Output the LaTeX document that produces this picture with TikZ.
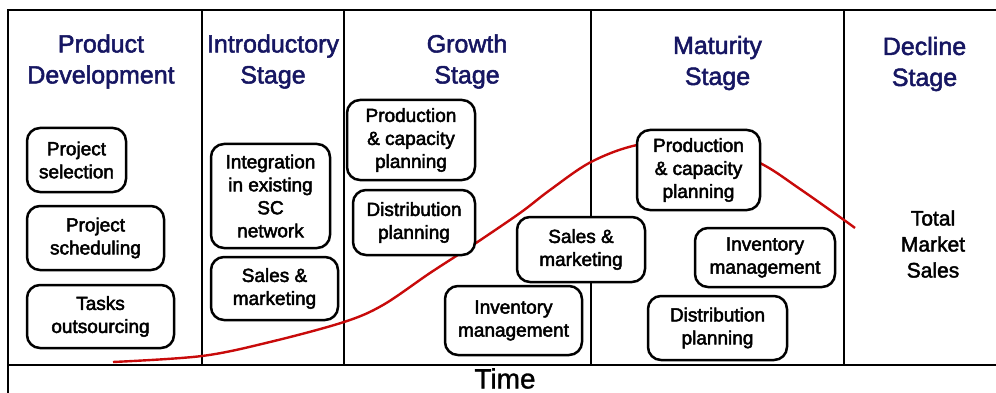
\documentclass[tikz,border=0pt]{standalone}
\usepackage{fontspec}
\setmainfont{Liberation Sans}
\definecolor{navy}{RGB}{22,22,98}
\definecolor{curvered}{RGB}{200,10,10}
\begin{document}
\begin{tikzpicture}[x=1pt,y=-1pt,
  frame/.style={line width=1.8pt,black},
  head/.style={text=navy,align=center,font=\fontsize{25}{31}\selectfont\addfontfeatures{FakeBold=2},inner sep=0pt},
  task/.style={draw,line width=2.5pt,rounded corners=13pt,fill=white,align=center,
    font=\fontsize{19}{23}\selectfont\addfontfeatures{FakeBold=2.5},inner sep=0pt},
  curve/.style={curvered,line width=2.4pt}]
\useasboundingbox (0,0) rectangle (996,393);
% frame
\draw[frame] (8,393) -- (8,10) -- (996,10);
\draw[frame] (8,365) -- (996,365);
\foreach \xx in {202,344,591,844} \draw[frame] (\xx,10) -- (\xx,365);
% headers
\node[head] (h1) at (101,61.5) {Product\\Development};
\node[head] (h2) at (273,61.5) {Introductory\\Stage};
\node[head] (h3) at (467,61.5) {Growth\\Stage};
\node[head] (h4) at (717.5,63) {Maturity\\Stage};
\node[head] (h5) at (924.5,64) {Decline\\Stage};
% curve
\draw[curve] plot[smooth,tension=0.55] coordinates {(113,362) (202,356) (270,342) (344,322) (383,305) (430,273) (470,247) (520,213) (550,190) (591,162) (637,145) (700,138) (760,163) (800,189) (844,220) (855,228)};
% tasks
\node[task,minimum width=99pt,minimum height=64pt] (ps) at (76.5,160) {Project\\selection};
\node[task,minimum width=137pt,minimum height=64pt] (psch) at (95.5,238) {Project\\scheduling};
\node[task,minimum width=147pt,minimum height=63pt] (tasks) at (100.5,316.5) {Tasks\\outsourcing};
\node[task,minimum width=119pt,minimum height=104pt] (integ) at (270.5,196) {Integration\\in existing\\SC\\network};
\node[task,minimum width=127pt,minimum height=63pt] (sm1) at (274.5,288.5) {Sales \&\\marketing};
\node[task,minimum width=128pt,minimum height=80pt] (prod1) at (411,140) {Production\\\& capacity\\planning};
\node[task,minimum width=122pt,minimum height=65pt] (dist1) at (414,222.5) {Distribution\\planning};
\node[task,minimum width=137pt,minimum height=69pt] (inv1) at (513.5,320.5) {Inventory\\management};
\node[task,minimum width=128pt,minimum height=65pt] (sm2) at (581,249.5) {Sales \&\\marketing};
\node[task,minimum width=123pt,minimum height=80pt] (prod2) at (698.5,170) {Production\\\& capacity\\planning};
\node[task,minimum width=140pt,minimum height=59pt] (inv2) at (765,257.5) {Inventory\\management};
\node[task,minimum width=139pt,minimum height=64pt] (dist2) at (717.5,328) {Distribution\\planning};
% labels
\node[align=center,font=\fontsize{21}{26}\selectfont\addfontfeatures{FakeBold=2},inner sep=0pt] (tms) at (933,244) {Total\\Market\\Sales};
\node[font=\fontsize{28}{32}\selectfont\addfontfeatures{FakeBold=1},inner sep=0pt] (time) at (505,378.5) {Time};
\end{tikzpicture}
\end{document}
